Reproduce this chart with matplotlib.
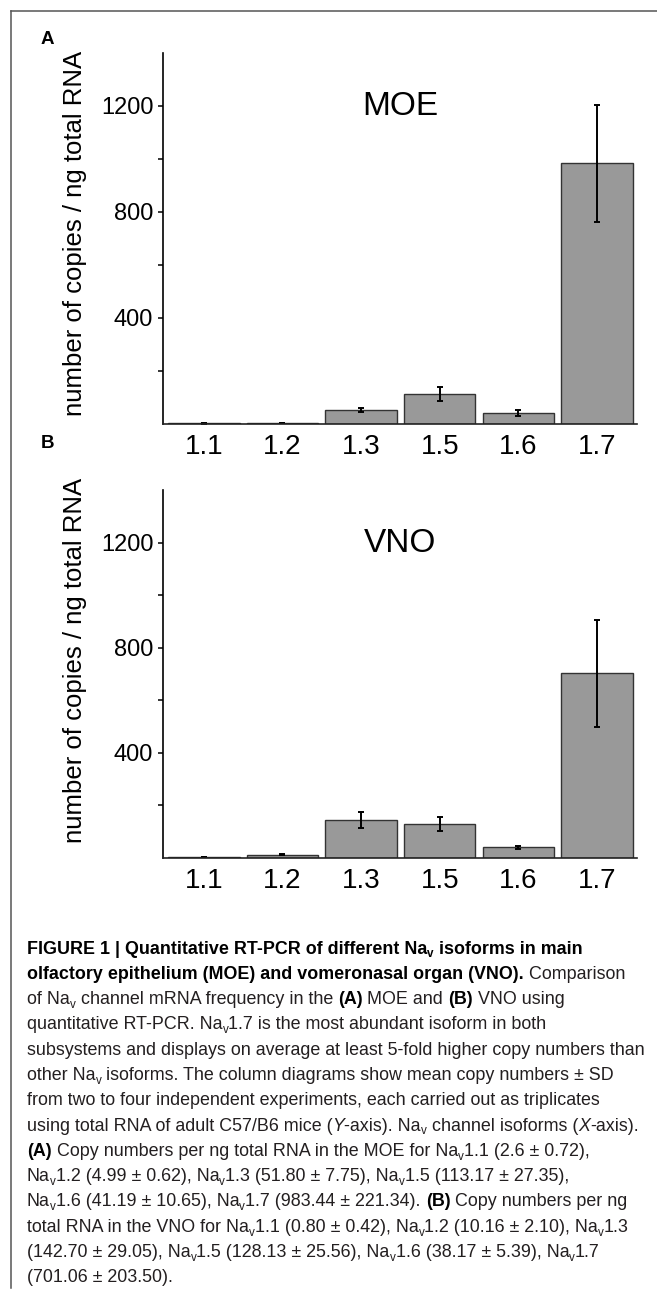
import matplotlib
matplotlib.use('Agg')
import matplotlib.pyplot as plt
from matplotlib.lines import Line2D
from matplotlib.ticker import FixedLocator, NullFormatter

isoforms = ['1.1', '1.2', '1.3', '1.5', '1.6', '1.7']
moe_mean = [2.6, 4.99, 51.80, 113.17, 41.19, 983.44]
moe_sd = [0.72, 0.62, 7.75, 27.35, 10.65, 221.34]
vno_mean = [0.80, 10.16, 142.70, 128.13, 38.17, 701.06]
vno_sd = [0.42, 2.10, 29.05, 25.56, 5.39, 203.50]

W, H = 657, 1292
SANS = ['Liberation Sans', 'DejaVu Sans']

fig = plt.figure(figsize=(W / 100, H / 100), dpi=100)


def fx(x):
    return x / W


def fy(y):
    return 1 - y / H


def panel(top, bottom, mean, sd, title, lab_y):
    ax = fig.add_axes([fx(163), fy(bottom), fx(637) - fx(163), (bottom - top) / H])
    x = list(range(len(isoforms)))
    ax.bar(x, mean, width=0.91, color='#999999', edgecolor='#333333', linewidth=1.0,
           yerr=sd, capsize=2.4,
           error_kw=dict(elinewidth=1.4, capthick=1.4, ecolor='black'))
    ax.set_xlim(-0.52, 5.51)
    ax.set_ylim(0, 1400)
    for s in ['top', 'right']:
        ax.spines[s].set_visible(False)
    ax.spines['left'].set_linewidth(1.2)
    ax.spines['bottom'].set_linewidth(1.2)
    ax.spines['bottom'].set_color('#222222')
    ax.yaxis.set_major_locator(FixedLocator([400, 800, 1200]))
    ax.yaxis.set_minor_locator(FixedLocator([200, 600, 1000]))
    ax.yaxis.set_minor_formatter(NullFormatter())
    ax.tick_params(axis='y', which='both', length=3.5, width=1.1, pad=3.5)
    ax.set_xticks(x)
    ax.set_xticklabels(isoforms)
    ax.tick_params(axis='x', length=0, pad=7.5)
    for t in ax.get_yticklabels():
        t.set_family(SANS)
        t.set_fontsize(17)
    for t in ax.get_xticklabels():
        t.set_family(SANS)
        t.set_fontsize(20)
    ax.text(0.5, 0.855, title, transform=ax.transAxes, ha='center', va='center',
            fontsize=24, family=SANS)
    ax.text((75 - 163) / 474, lab_y, 'number of copies / ng total RNA', transform=ax.transAxes,
            rotation=90, ha='center', va='center', fontsize=18.5, family=SANS)
    return ax


panel(53, 424, moe_mean, moe_sd, 'MOE', 0.513)
panel(490, 857.5, vno_mean, vno_sd, 'VNO', 0.537)

fig.text(fx(47), fy(39), 'A', ha='center', va='center', fontsize=13.5, weight='bold', family=SANS)
fig.text(fx(48), fy(443), 'B', ha='center', va='center', fontsize=13.5, weight='bold', family=SANS)

# frame
fig.add_artist(Line2D([fx(11), fx(11)], [fy(11), fy(1288)], color='#555555', lw=1.1))
fig.add_artist(Line2D([fx(11), 1.0], [fy(11), fy(11)], color='#555555', lw=1.1))

# caption
R, B, I, S = 'r', 'b', 'i', 's'
caption = [
    [(B, 'FIGURE 1 | Quantitative RT-PCR of different Na'), (B + S, 'v'), (B, ' isoforms in main')],
    [(B, 'olfactory epithelium (MOE) and vomeronasal organ (VNO).'), (R, ' Comparison')],
    [(R, 'of Na'), (S, 'v'), (R, ' channel mRNA frequency in the '), (B, '(A)'), (R, ' MOE and '),
     (B, '(B)'), (R, ' VNO using')],
    [(R, 'quantitative RT-PCR. Na'), (S, 'v'), (R, '1.7 is the most abundant isoform in both')],
    [(R, 'subsystems and displays on average at least 5-fold higher copy numbers than')],
    [(R, 'other Na'), (S, 'v'), (R, ' isoforms. The column diagrams show mean copy numbers \u00b1 SD')],
    [(R, 'from two to four independent experiments, each carried out as triplicates')],
    [(R, 'using total RNA of adult C57/B6 mice ('), (I, 'Y'), (R, '-axis). Na'), (S, 'v'),
     (R, ' channel isoforms ('), (I, 'X'), (R, '-axis).')],
    [(B, '(A)'), (R, ' Copy numbers per ng total RNA in the MOE for Na'), (S, 'v'),
     (R, '1.1 (2.6 \u00b1 0.72),')],
    [(R, 'Na'), (S, 'v'), (R, '1.2 (4.99 \u00b1 0.62), Na'), (S, 'v'), (R, '1.3 (51.80 \u00b1 7.75), Na'),
     (S, 'v'), (R, '1.5 (113.17 \u00b1 27.35),')],
    [(R, 'Na'), (S, 'v'), (R, '1.6 (41.19 \u00b1 10.65), Na'), (S, 'v'), (R, '1.7 (983.44 \u00b1 221.34). '),
     (B, '(B)'), (R, ' Copy numbers per ng')],
    [(R, 'total RNA in the VNO for Na'), (S, 'v'), (R, '1.1 (0.80 \u00b1 0.42), Na'), (S, 'v'),
     (R, '1.2 (10.16 \u00b1 2.10), Na'), (S, 'v'), (R, '1.3')],
    [(R, '(142.70 \u00b1 29.05), Na'), (S, 'v'), (R, '1.5 (128.13 \u00b1 25.56), Na'), (S, 'v'),
     (R, '1.6 (38.17 \u00b1 5.39), Na'), (S, 'v'), (R, '1.7')],
    [(R, '(701.06 \u00b1 203.50).')],
]

renderer = fig.canvas.get_renderer()
CAP_FS = 12.9


def seg_props(style):
    size = CAP_FS * (0.65 if S in style else 1.0)
    return dict(fontsize=size, family=SANS,
                weight='bold' if B in style else 'normal',
                style='italic' if I in style else 'normal',
                color='black' if B in style else '#231f20')


def advance(text, props):
    t1 = fig.text(0, 0, '|' + text + '|', **props)
    t2 = fig.text(0, 0, '||', **props)
    w = t1.get_window_extent(renderer).width - t2.get_window_extent(renderer).width
    t1.remove()
    t2.remove()
    return w


y0, dy = 948, 25.3
for i, line in enumerate(caption):
    xp = 27.0
    yp = y0 + i * dy
    for style, text in line:
        props = seg_props(style)
        off = 3.8 if S in style else 0
        fig.text(fx(xp), fy(yp + 5.5 + off), text, ha='left', va='baseline', **props)
        xp += advance(text, props)

fig.savefig('out.png', dpi=100)
